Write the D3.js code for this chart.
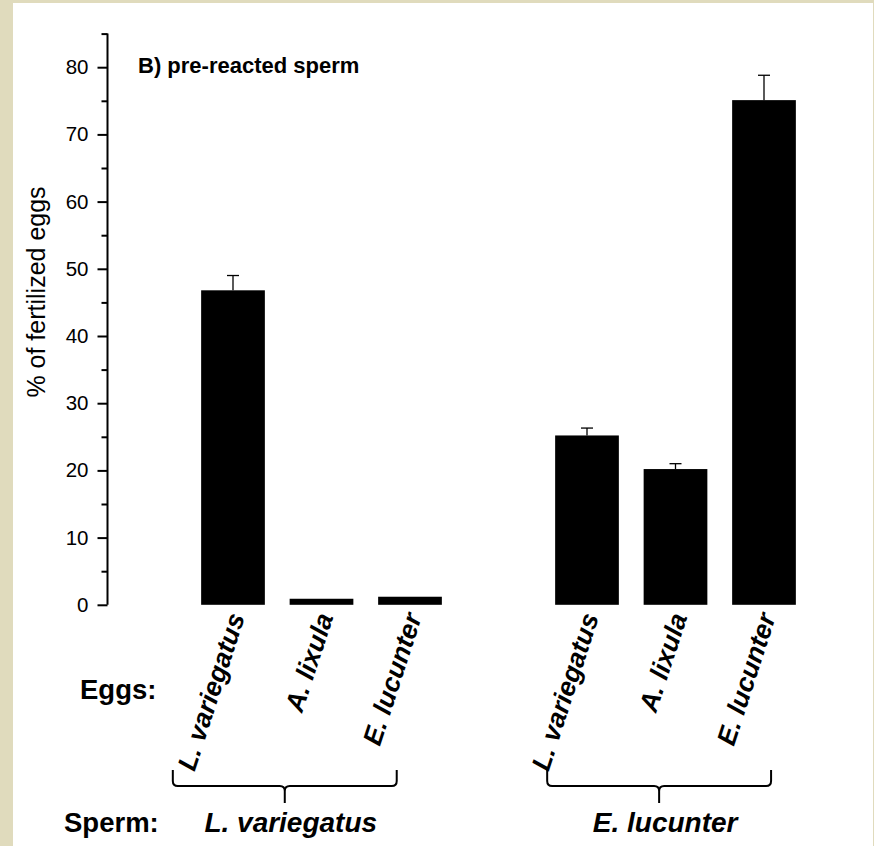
<!DOCTYPE html>
<html>
<head>
<meta charset="utf-8">
<script src="https://cdn.jsdelivr.net/npm/d3@7"></script>
<style>
  html, body { margin: 0; padding: 0; background: #e0dbbd; }
  svg { display: block; }
  text { font-family: "Liberation Sans", Arial, Helvetica, sans-serif; fill: #000; }
</style>
</head>
<body>
<svg id="chart" width="874" height="846"></svg>
<script>
// Fertilization success with pre-reacted sperm, by egg species within each sperm species
const eggSpecies   = ["L. variegatus", "A. lixula", "E. lucunter", "L. variegatus", "A. lixula", "E. lucunter"];
const spermSpecies = ["L. variegatus", "E. lucunter"];
const barSlots     = [1, 2, 3, 5, 6, 7];
const fertilized   = [46.8, 0.9, 1.2, 25.2, 20.2, 75.1];
const errorUp      = [2.2, 0, 0, 1.1, 0.8, 3.7];
const majorTicks   = [0, 10, 20, 30, 40, 50, 60, 70, 80];
const minorTicks   = [5, 15, 25, 35, 45, 55, 65, 75, 85];

// horizontal extent of each sperm-species brace, in bar-slot units
const braceSpan = [[0.32, 2.85], [4.55, 7.08]];

const svg = d3.select("#chart");
const W = 874, H = 846;

// panel background (white sheet on beige)
svg.append("rect").attr("x", 13).attr("y", 3).attr("width", W - 14).attr("height", H - 3).attr("fill", "#fff");

const y = d3.scaleLinear().domain([0, 80]).range([604.8, 67.2]);
const x = d3.scaleLinear().domain([0.5, 7.5]).range([188.75, 808.25]);
const slotW = x(2) - x(1);
const barW = slotW * 0.72;
const axisX = 107.5;

// y axis: major ticks with labels, minor ticks without
const gAxis = svg.append("g").attr("transform", `translate(${axisX},0)`);
gAxis.append("line")
  .attr("x1", 0).attr("x2", 0)
  .attr("y1", y(0)).attr("y2", y(85))
  .attr("stroke", "#000").attr("stroke-width", 2);
const major = d3.axisLeft(y).tickValues(majorTicks).tickSize(10).tickSizeOuter(0).tickPadding(9);
const gMajor = gAxis.append("g").call(major);
gMajor.select(".domain").remove();
gMajor.selectAll(".tick line").attr("stroke", "#000").attr("stroke-width", 2);
gMajor.selectAll(".tick text")
  .style("font-family", '"Liberation Sans", Arial, sans-serif')
  .style("font-size", "20.5px").attr("fill", "#000");
const minor = d3.axisLeft(y).tickValues(minorTicks).tickSize(6).tickFormat("");
const gMinor = gAxis.append("g").call(minor);
gMinor.select(".domain").remove();
gMinor.selectAll(".tick line").attr("stroke", "#000").attr("stroke-width", 2);

// y axis title
svg.append("text")
  .attr("transform", `translate(45,292) rotate(-90)`)
  .attr("text-anchor", "middle")
  .style("font-size", "25px")
  .text("% of fertilized eggs");

// panel title
svg.append("text")
  .attr("x", 138).attr("y", 73)
  .style("font-size", "22px").style("font-weight", "bold")
  .text("B) pre-reacted sperm");

// bars
const bars = fertilized.map((v, i) => ({ v, e: errorUp[i], slot: barSlots[i], egg: eggSpecies[i] }));
svg.append("g").selectAll("rect").data(bars).join("rect")
  .attr("x", d => x(d.slot) - barW / 2)
  .attr("width", barW)
  .attr("y", d => y(d.v))
  .attr("height", d => y(0) - y(d.v))
  .attr("fill", "#000");

// error bars (upper whisker only)
const gErr = svg.append("g").attr("stroke", "#000").attr("stroke-width", 1.3);
const withErr = bars.filter(d => d.e > 0);
gErr.selectAll("line.stem").data(withErr).join("line").attr("class", "stem")
  .attr("x1", d => x(d.slot)).attr("x2", d => x(d.slot))
  .attr("y1", d => y(d.v)).attr("y2", d => y(d.v + d.e));
gErr.selectAll("line.cap").data(withErr).join("line").attr("class", "cap")
  .attr("x1", d => x(d.slot) - 6).attr("x2", d => x(d.slot) + 6)
  .attr("y1", d => y(d.v + d.e)).attr("y2", d => y(d.v + d.e));

// egg species labels, rotated under each bar
svg.append("g").selectAll("text").data(bars).join("text")
  .attr("transform", d => `translate(${x(d.slot) + 12},${y(0) + 12}) rotate(-72)`)
  .attr("text-anchor", "end")
  .style("font-size", "26.5px").style("font-weight", "bold").style("font-style", "italic")
  .text(d => d.egg);

svg.append("text")
  .attr("x", 80).attr("y", 699)
  .style("font-size", "27.5px").style("font-weight", "bold")
  .text("Eggs:");

// curly brackets grouping bars by sperm species
const groups = spermSpecies.map((s, gi) => ({ name: s, x0: x(braceSpan[gi][0]), x1: x(braceSpan[gi][1]) }));
const brTop = 770, brMid = 786, brTip = 803, r = 5;
function bracePath(g) {
  const xm = (g.x0 + g.x1) / 2;
  return `M${g.x0},${brTop} V${brMid - r} Q${g.x0},${brMid} ${g.x0 + r},${brMid}` +
         ` H${xm - r} Q${xm},${brMid} ${xm},${brMid + r} V${brTip}` +
         ` M${xm},${brMid + r} Q${xm},${brMid} ${xm + r},${brMid} H${g.x1 - r}` +
         ` Q${g.x1},${brMid} ${g.x1},${brMid - r} V${brTop}`;
}
svg.append("g").selectAll("path").data(groups).join("path")
  .attr("d", bracePath)
  .attr("fill", "none").attr("stroke", "#000").attr("stroke-width", 2);

svg.append("text")
  .attr("x", 64).attr("y", 832)
  .style("font-size", "27.5px").style("font-weight", "bold")
  .text("Sperm:");
svg.append("g").selectAll("text").data(groups).join("text")
  .attr("x", d => (d.x0 + d.x1) / 2 + 6).attr("y", 832)
  .attr("text-anchor", "middle")
  .style("font-size", "28px").style("font-weight", "bold").style("font-style", "italic")
  .text(d => d.name);
</script>
</body>
</html>
